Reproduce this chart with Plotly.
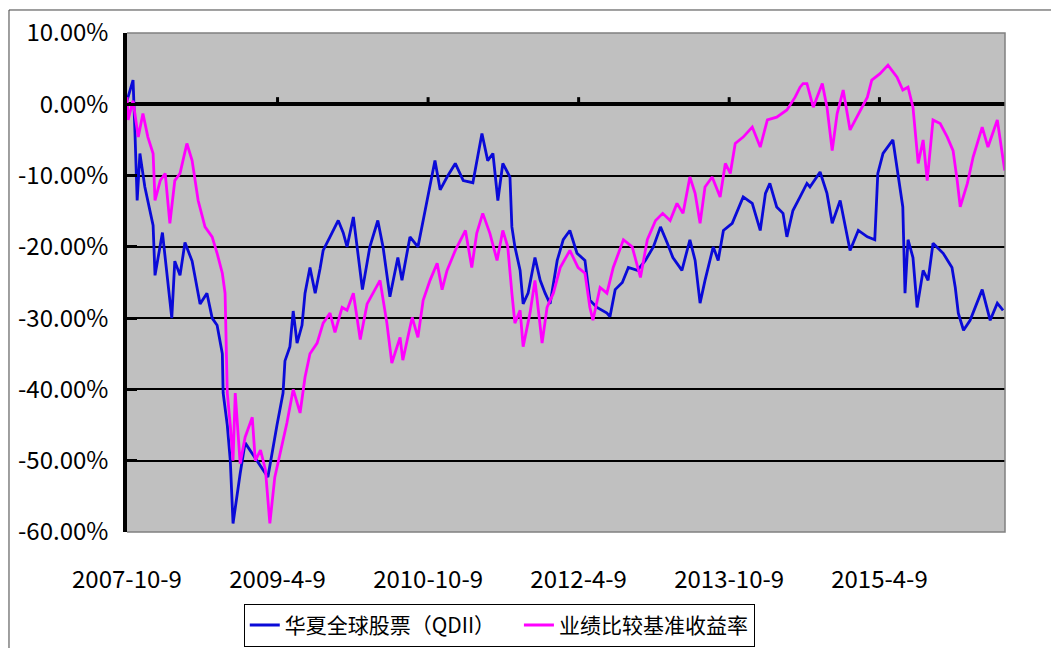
import plotly.graph_objects as go

# ---------------- data ----------------
fund_dates = [
    "2007-10-09", "2007-10-31", "2007-11-07", "2007-11-15", "2007-11-25", "2007-12-13",
    "2008-01-12", "2008-01-19", "2008-02-15", "2008-03-20", "2008-03-31", "2008-04-19",
    "2008-05-07", "2008-06-02", "2008-07-01", "2008-07-26", "2008-08-14", "2008-09-01",
    "2008-09-20", "2008-09-23", "2008-10-08", "2008-10-19", "2008-10-29", "2008-11-13",
    "2008-11-24", "2008-12-12", "2008-12-30", "2009-01-25", "2009-02-17", "2009-03-05",
    "2009-04-07", "2009-04-29", "2009-05-06", "2009-05-24", "2009-06-05", "2009-06-19",
    "2009-07-07", "2009-07-18", "2009-08-05", "2009-08-24", "2009-09-11", "2009-09-22",
    "2009-10-17", "2009-11-16", "2009-12-04", "2009-12-18", "2010-01-10", "2010-02-12",
    "2010-03-11", "2010-04-09", "2010-04-28", "2010-05-23", "2010-06-21", "2010-07-06",
    "2010-08-04", "2010-09-02", "2010-09-21", "2010-10-16", "2010-11-03", "2010-11-22",
    "2010-12-17", "2011-01-16", "2011-02-14", "2011-03-21", "2011-04-23", "2011-05-14",
    "2011-06-02", "2011-06-20", "2011-07-08", "2011-08-03", "2011-08-10", "2011-08-21",
    "2011-09-09", "2011-09-20", "2011-10-08", "2011-11-02", "2011-11-21", "2011-12-09",
    "2011-12-27", "2012-01-22", "2012-02-13", "2012-03-08", "2012-04-03", "2012-05-02",
    "2012-05-20", "2012-06-15", "2012-07-03", "2012-07-21", "2012-08-01", "2012-08-20",
    "2012-09-15", "2012-10-07", "2012-11-09", "2012-12-08", "2013-01-06", "2013-02-01",
    "2013-02-26", "2013-03-18", "2013-04-20", "2013-05-19", "2013-06-07", "2013-06-25",
    "2013-07-13", "2013-08-12", "2013-08-30", "2013-09-18", "2013-10-20", "2013-11-08",
    "2013-11-29", "2014-01-01", "2014-01-30", "2014-02-18", "2014-03-06", "2014-03-31",
    "2014-04-23", "2014-05-07", "2014-05-29", "2014-06-24", "2014-07-19", "2014-07-30",
    "2014-09-05", "2014-09-30", "2014-10-19", "2014-11-17", "2014-12-13", "2014-12-23",
    "2015-01-22", "2015-02-24", "2015-03-23", "2015-04-03", "2015-04-22", "2015-05-28",
    "2015-06-15", "2015-07-03", "2015-07-11", "2015-07-22", "2015-08-09", "2015-08-24",
    "2015-09-15", "2015-10-03", "2015-10-21", "2015-11-27", "2015-12-29", "2016-01-10",
    "2016-01-21", "2016-02-09", "2016-03-04", "2016-04-17", "2016-05-16", "2016-06-11",
    "2016-07-02",
]
fund_values = [
    0.5, 3.4, -4.0, -13.5, -6.9, -11.6,
    -17.0, -24.0, -18.0, -30.0, -22.0, -24.0,
    -19.4, -22.0, -28.0, -26.5, -30.0, -31.0,
    -35.0, -40.5, -45.0, -50.0, -58.8, -54.6,
    -51.8, -47.5, -48.5, -50.0, -51.3, -52.3,
    -45.0, -40.5, -36.0, -34.0, -29.0, -33.5,
    -31.0, -26.5, -22.9, -26.5, -23.0, -20.5,
    -18.6, -16.3, -18.0, -20.0, -15.8, -26.0,
    -20.0, -16.3, -20.0, -27.0, -21.5, -24.7,
    -18.6, -20.0, -16.3, -11.6, -7.9, -12.0,
    -10.2, -8.3, -10.7, -11.0, -4.1, -7.9,
    -6.9, -13.5, -8.3, -10.2, -17.2, -20.0,
    -23.3, -28.0, -26.5, -21.5, -24.7, -26.5,
    -28.0, -21.9, -19.0, -17.7, -20.9, -21.9,
    -27.5, -28.5, -28.9, -29.3, -29.8, -26.0,
    -25.0, -22.9, -23.3, -21.9, -20.0, -17.2,
    -19.5, -21.5, -23.3, -19.0, -21.9, -27.9,
    -24.7, -20.0, -21.9, -17.7, -16.7, -14.9,
    -13.0, -13.9, -17.7, -12.5, -11.1, -14.4,
    -15.3, -18.6, -14.9, -13.0, -11.1, -11.6,
    -9.5, -12.5, -16.7, -13.5, -18.6, -20.5,
    -17.7, -18.6, -19.0, -9.7, -6.9, -5.0,
    -9.7, -14.4, -26.5, -19.0, -21.5, -28.5,
    -23.3, -24.7, -19.5, -20.9, -22.9, -25.7,
    -29.3, -31.7, -30.3, -26.0, -30.3, -27.9,
    -28.9,
]

bench_dates = [
    "2007-10-09", "2007-10-13", "2007-10-31", "2007-11-19", "2007-12-06", "2007-12-24",
    "2008-01-12", "2008-01-19", "2008-02-07", "2008-02-25", "2008-03-13", "2008-03-31",
    "2008-04-19", "2008-05-14", "2008-06-02", "2008-06-24", "2008-07-19", "2008-08-14",
    "2008-09-01", "2008-09-20", "2008-09-30", "2008-10-08", "2008-10-19", "2008-10-29",
    "2008-11-06", "2008-11-24", "2008-12-12", "2009-01-07", "2009-01-18", "2009-02-06",
    "2009-02-24", "2009-03-12", "2009-03-30", "2009-04-18", "2009-05-13", "2009-06-05",
    "2009-06-30", "2009-07-18", "2009-08-05", "2009-08-31", "2009-09-22", "2009-10-17",
    "2009-11-04", "2009-11-30", "2009-12-18", "2010-01-10", "2010-02-04", "2010-03-01",
    "2010-03-22", "2010-04-17", "2010-05-12", "2010-05-30", "2010-06-29", "2010-07-09",
    "2010-08-12", "2010-09-02", "2010-09-21", "2010-10-16", "2010-11-11", "2010-11-29",
    "2010-12-17", "2011-01-16", "2011-02-22", "2011-03-17", "2011-04-04", "2011-04-26",
    "2011-05-22", "2011-06-17", "2011-07-08", "2011-07-26", "2011-08-10", "2011-08-21",
    "2011-09-09", "2011-09-20", "2011-10-15", "2011-11-02", "2011-11-28", "2011-12-16",
    "2012-01-08", "2012-02-02", "2012-03-08", "2012-04-07", "2012-05-02", "2012-05-20",
    "2012-05-31", "2012-06-26", "2012-07-21", "2012-08-13", "2012-09-19", "2012-10-21",
    "2012-11-20", "2012-12-15", "2013-01-14", "2013-02-09", "2013-03-08", "2013-04-02",
    "2013-04-24", "2013-05-19", "2013-06-07", "2013-06-25", "2013-07-13", "2013-08-08",
    "2013-09-06", "2013-09-25", "2013-10-13", "2013-10-31", "2013-11-29", "2014-01-01",
    "2014-01-30", "2014-02-25", "2014-03-31", "2014-05-07", "2014-06-06", "2014-06-24",
    "2014-07-05", "2014-07-19", "2014-08-11", "2014-09-13", "2014-09-30", "2014-10-19",
    "2014-11-06", "2014-11-28", "2014-12-23", "2015-01-22", "2015-02-24", "2015-03-12",
    "2015-04-11", "2015-05-10", "2015-06-12", "2015-07-03", "2015-07-22", "2015-08-09",
    "2015-08-28", "2015-09-15", "2015-09-30", "2015-10-21", "2015-11-16", "2015-12-12",
    "2016-01-02", "2016-01-17", "2016-01-28", "2016-02-23", "2016-03-15", "2016-04-17",
    "2016-05-08", "2016-06-11", "2016-06-29", "2016-07-08",
]
bench_values = [
    1.0, -2.2, 0.5, -4.6, -1.3, -4.6,
    -6.9, -13.5, -10.7, -9.7, -16.7, -10.7,
    -9.7, -5.5, -7.9, -13.5, -17.2, -18.6,
    -20.9, -23.7, -26.5, -40.5, -45.0, -50.0,
    -40.5, -50.4, -46.7, -43.9, -50.0, -48.5,
    -51.3, -58.8, -52.3, -49.0, -44.7, -40.0,
    -43.3, -38.3, -35.0, -33.5, -30.7, -29.3,
    -32.0, -28.5, -28.9, -26.5, -33.0, -28.0,
    -26.5, -24.7, -30.7, -36.3, -32.7, -35.9,
    -29.9, -32.7, -27.5, -24.7, -22.3, -26.0,
    -23.3, -20.5, -17.7, -22.9, -18.1, -15.3,
    -18.1, -21.9, -17.7, -20.0, -26.5, -30.7,
    -28.9, -34.0, -29.3, -24.7, -33.5, -28.5,
    -26.5, -22.9, -20.5, -22.9, -23.7, -28.5,
    -30.3, -25.7, -26.5, -22.9, -19.0, -20.0,
    -24.3, -19.0, -16.3, -15.3, -16.3, -13.9,
    -15.3, -10.2, -12.5, -16.7, -11.6, -10.2,
    -13.0, -8.3, -9.7, -5.5, -4.6, -3.2,
    -6.0, -2.2, -1.8, -0.8, 1.0, 2.4,
    2.9, 2.9, -0.4, 2.9, -0.4, -6.5,
    -1.3, 2.0, -3.6, -1.3, 1.0, 3.4,
    4.3, 5.5, 3.8, 2.0, 2.4, -0.4,
    -8.3, -5.0, -10.7, -2.2, -2.7, -4.6,
    -6.5, -10.7, -14.4, -11.1, -7.4, -3.2,
    -6.0, -2.2, -6.5, -9.3,
]

series_names = ["华夏全球股票（QDII）", "业绩比较基准收益率"]
x_tick_dates = ["2007-10-09", "2009-04-09", "2010-10-09", "2012-04-09", "2013-10-09", "2015-04-09"]
x_tick_labels = ["2007-10-9", "2009-4-9", "2010-10-9", "2012-4-9", "2013-10-9", "2015-4-9"]
y_tick_values = [10, 0, -10, -20, -30, -40, -50, -60]
y_tick_labels = [f"{v:.2f}%" for v in y_tick_values]
x_range = ["2007-10-09", "2016-07-09"]
y_range = [-60, 10]

# ---------------- figure ----------------
# The page body adds an 8px margin, so the figure is 8px smaller and the
# margins are reduced accordingly to land the plot area where the reference has it.
FONT = "Noto Sans CJK SC"
NBSP = "\u00a0"
fig = go.Figure()
fig.add_trace(go.Scatter(x=fund_dates, y=fund_values, mode="lines",
                         name=series_names[0] + NBSP * 4,
                         line=dict(color="#0A0AD8", width=2.8)))
fig.add_trace(go.Scatter(x=bench_dates, y=bench_values, mode="lines",
                         name=series_names[1],
                         line=dict(color="#FF00FF", width=2.8)))

shapes = []
# small upward tick marks on the zero axis line
for d in x_tick_dates[1:]:
    shapes.append(dict(type="line", xref="x", yref="y", x0=d, x1=d, y0=0, y1=1.0,
                       line=dict(color="black", width=3), layer="above"))
# plot-area border on top, right and bottom
shapes.append(dict(type="path", xref="paper", yref="paper",
                   path="M 0,1 L 1,1 L 1,0 L 0,0",
                   line=dict(color="#808080", width=1.5), layer="above"))
# outer chart frame (only left and top edges are visible in the reference)
shapes.append(dict(type="path", xref="paper", yref="paper",
                   path="M -0.1344,-0.4 L -0.1344,1.0461 L 1.3,1.0461",
                   line=dict(color="#404040", width=1), layer="below"))

fig.update_layout(
    width=1051, height=640,
    margin=dict(l=119, r=54, t=25, b=116, autoexpand=False),
    paper_bgcolor="white",
    plot_bgcolor="#C0C0C0",
    font=dict(family=FONT, color="black", size=24),
    showlegend=True,
    legend=dict(orientation="h", x=0.424, xanchor="center", y=-0.144, yanchor="top",
                bordercolor="black", borderwidth=1, bgcolor="white",
                font=dict(family=FONT, size=21, color="black"),
                itemwidth=30, tracegroupgap=0),
    shapes=shapes,
)
fig.update_xaxes(
    type="date", range=x_range, automargin=False,
    tickvals=x_tick_dates, ticktext=x_tick_labels,
    showgrid=False, zeroline=False, showline=False, ticks="",
    ticklabelstandoff=31,
    tickfont=dict(family=FONT, size=24, color="black"),
)
fig.update_yaxes(
    range=y_range, tickvals=y_tick_values, ticktext=y_tick_labels, automargin=False,
    showgrid=True, gridcolor="black", gridwidth=1.5,
    zeroline=True, zerolinecolor="black", zerolinewidth=3.5,
    showline=True, linecolor="black", linewidth=3.5,
    ticks="inside", ticklen=10, tickwidth=3, tickcolor="black",
    ticklabelstandoff=10,
    tickfont=dict(family=FONT, size=24, color="black"),
)

fig.write_html("out.html")
